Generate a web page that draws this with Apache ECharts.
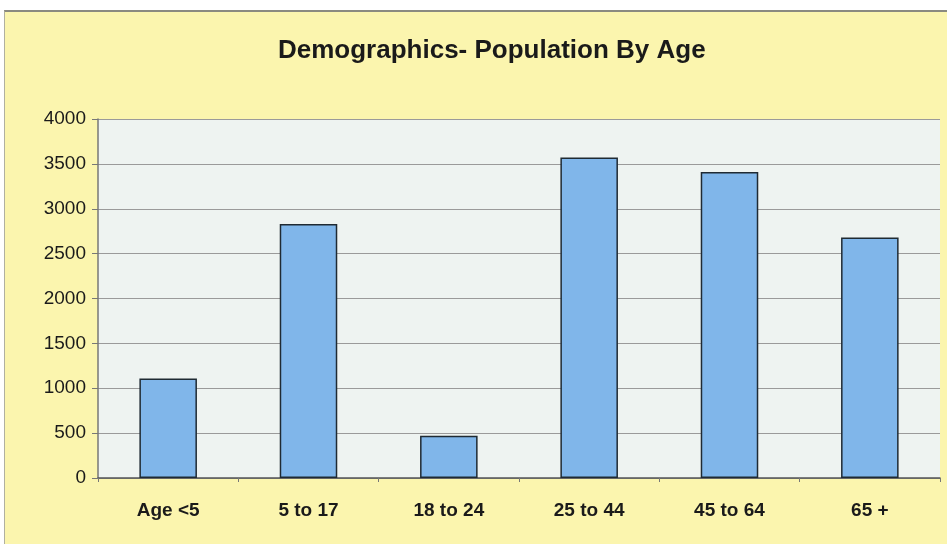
<!DOCTYPE html>
<html>
<head>
<meta charset="utf-8">
<script src="https://cdn.jsdelivr.net/npm/echarts@6/dist/echarts.min.js"></script>
<style>
  html, body { margin: 0; padding: 0; background: #ffffff; }
  #chart {
    position: absolute; left: 4px; top: 10px; width: 943px; height: 534px;
    border-top: 2px solid #8a8a80; border-left: 1px solid #b0b0a0; box-sizing: border-box;
  }
</style>
</head>
<body>
<div id="chart"></div>
<script>
// age groups on the x axis
const categories = ['Age <5', '5 to 17', '18 to 24', '25 to 44', '45 to 64', '65 +']
// population counts
const population = [1110, 2830, 470, 3570, 3410, 2680]

const chart = echarts.init(document.getElementById('chart'))

const option = {
  backgroundColor: '#fbf5ae',
  animation: false,
  title: {
    text: 'Demographics- Population By Age',
    left: 268,
    top: 21,
    textStyle: {
      fontFamily: 'Liberation Sans Narrow, Liberation Sans, Arial',
      fontWeight: 'bold',
      fontSize: 26,
      color: '#1a1a1a'
    }
  },
  grid: {
    left: 93,
    right: 7,
    top: 107,
    bottom: 66,
    show: true,
    backgroundColor: '#eef3f1',
    borderColor: '#888',
    borderWidth: 0
  },
  xAxis: {
    type: 'category',
    data: categories,
    axisLine: { show: true, lineStyle: { color: '#555', width: 1.5 } },
    axisTick: { show: true, length: 4, lineStyle: { color: '#777' } },
    axisLabel: {
      margin: 23,
      fontFamily: 'Liberation Sans, Arial',
      fontWeight: 'bold',
      fontSize: 19,
      color: '#1a1a1a'
    }
  },
  yAxis: {
    type: 'value',
    min: 0,
    max: 4000,
    interval: 500,
    axisLine: { show: true, lineStyle: { color: '#777', width: 1.5 } },
    axisTick: { show: true, length: 6, lineStyle: { color: '#777' } },
    splitLine: { show: true, lineStyle: { color: '#9a9a9a', width: 1 } },
    axisLabel: {
      margin: 12,
      fontFamily: 'Liberation Sans, Arial',
      fontSize: 19,
      color: '#1a1a1a',
      formatter: function (v) { return String(v) }
    }
  },
  series: [{
    type: 'bar',
    data: population,
    barWidth: '41%',
    itemStyle: {
      color: '#80b6ea',
      borderColor: '#1f2a33',
      borderWidth: 1.5
    }
  }]
}

chart.setOption(option)
</script>
</body>
</html>
